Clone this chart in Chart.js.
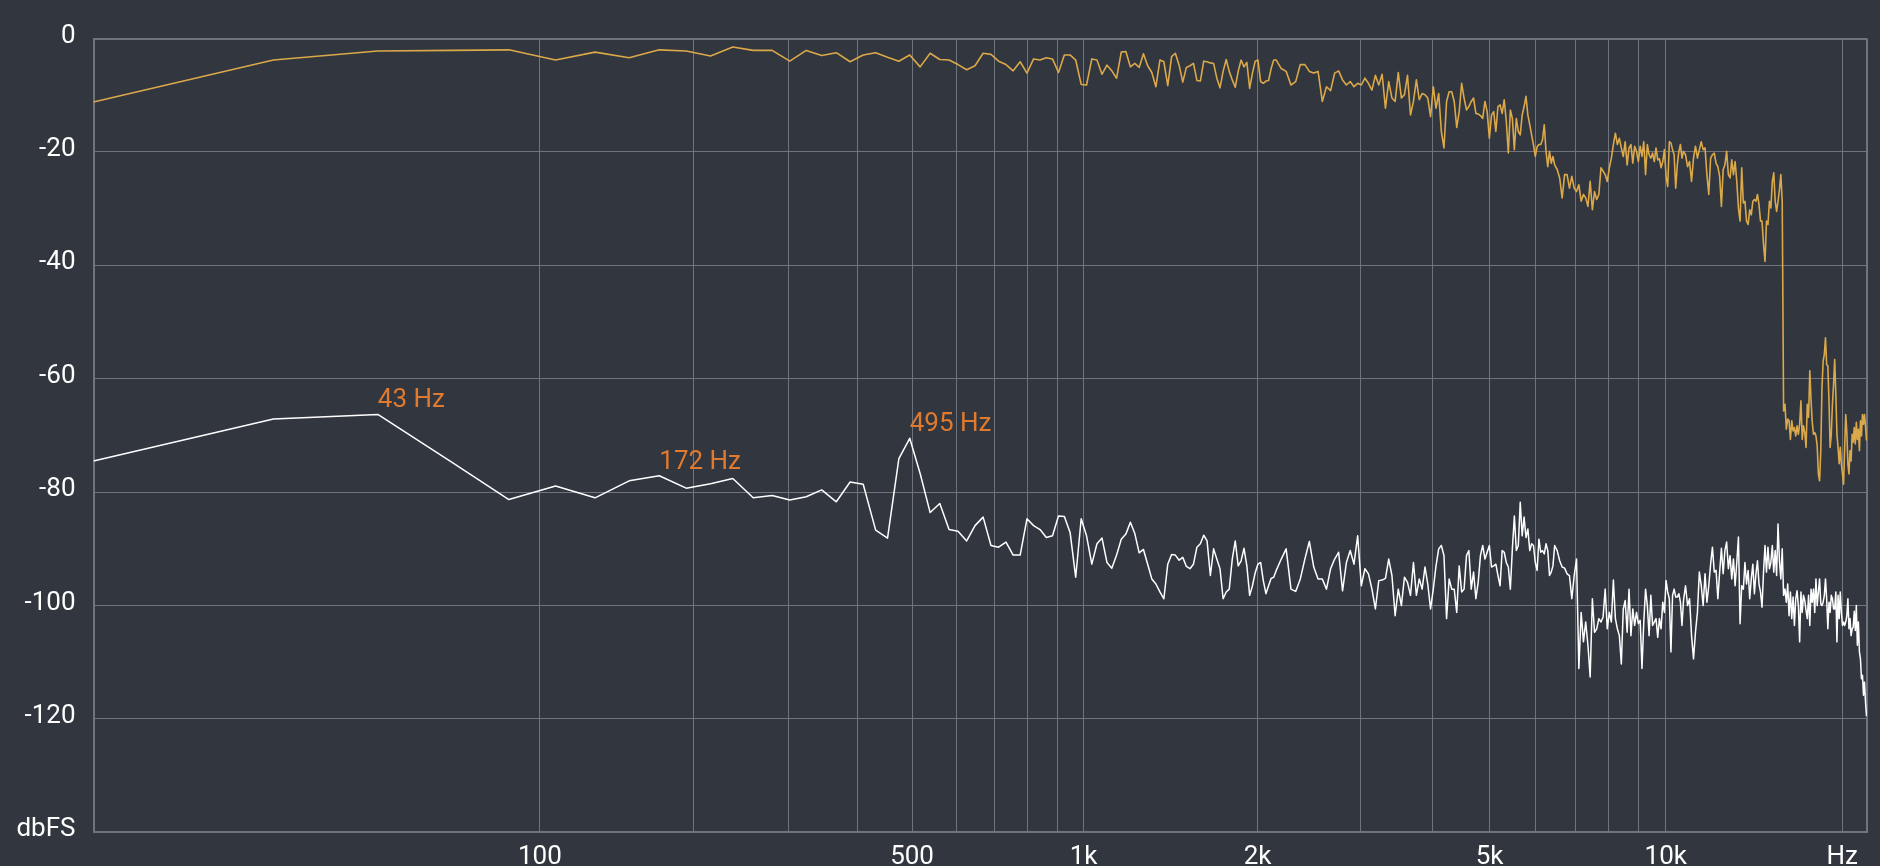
<!DOCTYPE html>
<html lang="en">
<head>
<meta charset="UTF-8">
<title>Spectrum</title>
<script src="https://cdn.jsdelivr.net/npm/chart.js@4"></script>
<style>
  html, body { margin: 0; padding: 0; background: #31363f; overflow: hidden; }
  .chart-box { position: relative; width: 1880px; height: 866px; }
</style>
</head>
<body>
<div class="chart-box"><canvas id="spectrum"></canvas></div>
<script>
// FFT bins of a 2048-point transform at 44.1 kHz
const binHz = 44100 / 2048;
// each block of values below is read at [first bin, bin step]
const segA = [0, 1], segB = [102, 2], segC = [303, 3], segD = [502, 4];

// music spectrum (gold), dBFS
const musicA = [
  -11.2, -3.8, -2.2, -2.1, -2.0, -3.8, -2.4, -3.4, -2.0, -2.2,
  -3.1, -1.5, -2.1, -2.1, -4.0, -2.1, -3.0, -2.5, -4.1, -2.9,
  -2.5, -3.3, -4.0, -2.9, -5.0, -2.6, -3.7, -3.8, -4.6, -5.5,
  -4.8, -2.6, -2.8, -4.0, -4.6, -5.7, -4.1, -6.1, -3.6, -3.8,
  -3.4, -3.6, -6.0, -2.9, -2.9, -3.8, -8.1, -8.2, -3.6, -3.8,
  -6.3, -4.7, -5.7, -7.0, -2.4, -2.3, -5.0, -4.4, -5.1, -2.7,
  -4.8, -6.0, -8.5, -3.8, -4.1, -8.3, -3.2, -2.6, -4.7, -7.7,
  -5.1, -4.8, -4.4, -7.4, -7.5, -4.0, -4.1, -4.3, -4.4, -7.0,
  -8.7, -5.8, -3.7, -5.8, -7.3, -8.6, -5.8, -3.8, -5.0, -4.2,
  -8.8, -6.1, -4.0, -3.8, -7.6, -7.9, -7.5, -7.4, -5.3, -3.8,
  -3.8
];
const musicB = [
  -5.3, -5.8, -8.2, -7.6, -4.6, -4.6, -5.8, -6.1, -5.8, -11.1,
  -8.5, -9.2, -6.1, -5.7, -7.3, -8.2, -7.6, -8.5, -7.9, -8.2,
  -7.0, -7.9, -9.1, -6.5, -8.2, -6.3, -12.3, -7.6, -10.5, -11.1,
  -6.0, -10.5, -9.9, -6.5, -13.5, -11.1, -7.3, -10.8, -9.7, -9.9,
  -10.5, -13.8, -8.5, -12.3, -9.7, -16.4, -19.3, -11.1, -9.4, -9.4,
  -11.1, -15.7, -12.9, -7.9, -10.5, -12.6, -12.0, -11.1, -10.5, -13.2,
  -13.3, -13.6, -14.1, -11.1, -12.9, -17.6, -13.5, -12.9, -16.4, -12.0,
  -11.7, -13.2, -10.8, -14.6, -20.2, -12.6, -14.1, -19.6, -14.1, -16.4,
  -17.0, -13.5, -12.0, -10.2, -13.5, -15.2, -17.0, -18.7, -20.8, -19.1,
  -18.7, -18.7, -17.9, -15.2, -19.9, -22.6, -19.9, -22.0, -20.8, -22.3
];
const musicC = [
  -23.1, -24.6, -28.1, -24.0, -24.0, -26.4, -24.3, -26.4, -27.0, -25.8,
  -28.7, -27.5, -28.1, -29.6, -25.2, -30.2, -27.0, -28.4, -27.5, -22.8,
  -23.4, -24.0, -25.2, -22.8, -21.1, -18.7, -16.7, -18.7, -17.6, -19.3,
  -20.8, -18.2, -22.3, -19.3, -18.7, -22.0, -19.0, -19.9, -21.7, -19.0,
  -20.8, -18.2, -24.0, -18.7, -20.5, -21.1, -20.2, -21.7, -19.3, -21.4,
  -21.2, -22.8, -21.7, -19.6, -24.3, -26.1, -18.2, -18.4, -19.6, -20.5,
  -26.4, -22.3, -19.9, -18.7, -21.1, -19.9
];
const musicD = [
  -20.5, -22.6, -21.7, -25.2, -21.1, -19.0, -21.1, -19.6, -18.2, -19.6,
  -19.3, -24.0, -27.5, -21.1, -20.5, -20.2, -22.0, -22.6, -24.3, -29.6,
  -23.1, -22.3, -19.9, -24.0, -24.6, -21.4, -24.0, -21.7, -25.2, -29.9,
  -32.2, -22.8, -29.0, -28.7, -32.2, -32.8, -30.2, -31.1, -28.7, -28.4,
  -28.7, -27.5, -29.3, -32.2, -32.2, -36.3, -39.3, -32.2, -32.8, -28.7,
  -29.9, -25.2, -23.7, -28.7, -30.5, -28.7, -26.7, -24.0, -28.7, -65.7,
  -64.5, -68.9, -67.1, -67.4, -70.7, -67.4, -69.2, -68.6, -70.1, -68.3,
  -69.8, -68.0, -63.9, -70.7, -68.3, -69.5, -72.1, -64.5, -66.8, -58.6,
  -63.9, -67.7, -69.8, -69.5, -70.1, -71.8, -76.8, -78.0, -72.7, -61.6,
  -56.9, -55.7, -52.8, -57.5, -57.7, -63.9, -72.1, -69.8, -64.5, -61.0,
  -56.6, -62.7, -69.8, -72.1, -75.0, -72.1, -75.0, -76.8, -78.6, -72.1,
  -66.3, -69.5, -75.0, -76.8, -72.7, -74.5, -69.8, -71.2, -68.6, -71.5,
  -67.7, -70.7, -68.9, -72.7, -67.4, -70.1, -66.3, -68.0, -66.3, -68.3, -70.9
];

// noise spectrum (white), dBFS
const noiseA = [
  -74.5, -67.1, -66.3, -74.7, -81.3, -78.9, -81.0, -78.0, -77.1, -79.3,
  -78.5, -77.6, -81.0, -80.6, -81.4, -80.8, -79.6, -81.7, -78.2, -78.6,
  -86.7, -88.1, -74.1, -70.5, -76.7, -83.6, -82.0, -86.6, -86.9, -88.6,
  -85.9, -84.4, -89.4, -89.7, -88.8, -91.1, -91.1, -84.7, -85.9, -86.6,
  -88.0, -87.7, -84.2, -84.3, -87.1, -95.0, -84.7, -87.7, -92.7, -89.1,
  -88.1, -92.4, -93.4, -91.1, -88.3, -87.4, -85.3, -87.3, -90.7, -90.1,
  -92.7, -95.3, -96.2, -97.6, -98.8, -92.7, -91.0, -91.1, -92.0, -91.5,
  -93.1, -93.5, -92.7, -89.7, -89.1, -87.6, -88.6, -94.7, -90.0, -91.8,
  -93.5, -98.8, -97.6, -97.1, -91.8, -88.6, -93.0, -92.1, -89.9, -93.0,
  -98.2, -96.5, -94.2, -92.7, -92.4, -95.6, -97.9, -96.5, -95.2, -95.0,
  -93.8
];
const noiseB = [
  -91.8, -90.0, -97.1, -97.5, -95.3, -91.8, -88.7, -93.2, -95.3, -95.3,
  -97.1, -93.5, -91.8, -90.6, -97.4, -92.4, -90.3, -92.7, -87.7, -96.5,
  -93.5, -94.4, -97.1, -100.6, -95.6, -95.5, -95.2, -91.8, -94.7, -101.8,
  -97.1, -100.0, -95.0, -95.9, -98.2, -92.4, -98.2, -95.3, -97.1, -93.2,
  -96.2, -100.6, -97.1, -93.0, -90.0, -89.4, -91.2, -102.3, -95.3, -97.1,
  -97.1, -101.2, -93.0, -97.6, -97.1, -91.2, -90.3, -97.1, -94.1, -98.8,
  -95.9, -91.2, -89.4, -91.8, -90.6, -89.4, -93.2, -93.0, -92.7, -94.7,
  -96.5, -90.3, -90.6, -92.4, -93.2, -97.1, -90.0, -84.2, -90.3, -89.4,
  -81.8, -87.7, -84.4, -88.0, -86.5, -90.3, -89.1, -89.4, -92.4, -93.8,
  -88.3, -90.6, -90.3, -90.9, -89.1, -90.3, -94.7, -94.1, -93.0, -89.4
];
const noiseC = [
  -90.3, -92.1, -93.2, -93.4, -94.4, -94.7, -98.8, -94.7, -91.8, -111.1,
  -101.2, -106.4, -102.9, -107.0, -112.6, -98.8, -104.7, -104.1, -102.3, -102.9,
  -102.0, -97.1, -104.1, -101.2, -102.9, -95.5, -102.3, -104.1, -105.3, -110.3,
  -100.6, -99.1, -104.7, -97.1, -105.3, -100.6, -103.5, -101.2, -103.2, -102.6,
  -111.1, -102.9, -97.1, -100.0, -105.3, -98.2, -103.5, -102.9, -102.3, -105.6,
  -102.3, -104.1, -99.4, -101.2, -95.6, -97.6, -98.8, -108.2, -98.2, -97.1,
  -98.5, -98.5, -97.9, -99.4, -103.5, -99.1
];
const noiseD = [
  -96.5, -100.0, -98.8, -105.3, -109.4, -104.7, -101.2, -94.1, -96.5, -100.0,
  -94.4, -99.4, -96.5, -92.7, -89.7, -94.1, -93.8, -98.8, -94.1, -89.9,
  -94.4, -90.3, -88.8, -93.5, -91.2, -95.3, -91.8, -96.5, -92.4, -87.9,
  -103.2, -96.5, -97.1, -92.4, -96.2, -93.8, -98.8, -95.3, -92.7, -97.9,
  -94.4, -92.1, -96.2, -97.6, -100.3, -94.1, -89.4, -94.1, -89.7, -93.5,
  -92.4, -89.4, -94.1, -90.3, -94.7, -85.6, -92.1, -95.3, -90.0, -98.2,
  -97.1, -99.4, -96.2, -101.8, -97.6, -102.3, -98.5, -103.5, -98.8, -97.4,
  -100.0, -106.4, -97.6, -101.2, -98.2, -99.1, -100.9, -102.3, -98.2, -103.5,
  -97.1, -99.4, -97.1, -101.2, -95.3, -100.0, -97.6, -95.3, -99.7, -100.0,
  -99.4, -98.2, -95.3, -98.8, -104.1, -99.4, -101.2, -98.2, -98.8, -100.6,
  -100.6, -97.6, -106.4, -98.2, -102.3, -97.6, -101.2, -103.5, -102.9, -103.5,
  -102.9, -101.8, -98.8, -104.1, -102.3, -105.3, -104.1, -103.8, -101.0, -104.4,
  -100.0, -107.0, -102.9, -108.2, -109.4, -112.9, -112.3, -115.8, -113.5, -117.0, -119.5
];

// x grid lines (Hz) and the ones that carry a label
const gridHz = [0, 100, 200, 300, 400, 500, 600, 700, 800, 900, 1000,
  2000, 3000, 4000, 5000, 6000, 7000, 8000, 9000, 10000, 20000, 22050];
const hzLabels = { 100: '100', 500: '500', 1000: '1k', 2000: '2k', 5000: '5k', 10000: '10k', 20000: 'Hz' };
const dbMin = -140, dbMax = 0, dbStep = 20;
const peakBins = [2, 8, 23];
const peakNames = ['43 Hz', '172 Hz', '495 Hz'];

function toPoints(blocks) {
  const pts = [];
  blocks.forEach(([seg, vals]) => {
    vals.forEach((v, i) => pts.push({ x: (seg[0] + i * seg[1]) * binHz, y: v }));
  });
  return pts;
}

// frequency axis of the analyser: log10(f + 21)
const HZ_SHIFT = 21;
class ShiftedLogScale extends Chart.Scale {
  determineDataLimits() {
    this.min = this.options.min;
    this.max = this.options.max;
  }
  buildTicks() {
    return gridHz.map(v => ({ value: v }));
  }
  getLabelForValue(v) { return String(v); }
  configure() {
    super.configure();
    this._lo = Math.log10(this.min + HZ_SHIFT);
    this._span = Math.log10(this.max + HZ_SHIFT) - this._lo;
  }
  getPixelForValue(v) {
    return this.getPixelForDecimal((Math.log10(v + HZ_SHIFT) - this._lo) / this._span);
  }
  getValueForPixel(p) {
    return Math.pow(10, this._lo + this.getDecimalForPixel(p) * this._span) - HZ_SHIFT;
  }
}
ShiftedLogScale.id = 'shiftedLog';
ShiftedLogScale.defaults = {};
Chart.register(ShiftedLogScale);

const peakLabels = {
  id: 'peakLabels',
  afterDatasetsDraw(chart) {
    const pts = chart.getDatasetMeta(1).data;
    const ctx = chart.ctx;
    ctx.save();
    ctx.font = '26px Roboto';
    ctx.fillStyle = '#e07a2e';
    ctx.textAlign = 'left';
    ctx.textBaseline = 'alphabetic';
    peakBins.forEach((bin, i) => {
      ctx.fillText(peakNames[i], pts[bin].x, pts[bin].y - 7);
    });
    ctx.restore();
  }
};

const gridColor = '#70757d';
const edgeWidth = (ctx, edges) => edges.includes(ctx.tick && ctx.tick.value) ? 2 : 1;

new Chart(document.getElementById('spectrum'), {
  type: 'line',
  data: {
    datasets: [
      {
        label: 'music',
        data: toPoints([[segA, musicA], [segB, musicB], [segC, musicC], [segD, musicD]]),
        borderColor: '#dba949',
        borderWidth: 1.6,
        borderJoinStyle: 'round',
        pointRadius: 0,
        tension: 0
      },
      {
        label: 'noise',
        data: toPoints([[segA, noiseA], [segB, noiseB], [segC, noiseC], [segD, noiseD]]),
        borderColor: '#ffffff',
        borderWidth: 1.5,
        borderJoinStyle: 'round',
        pointRadius: 0,
        tension: 0
      }
    ]
  },
  options: {
    responsive: true,
    maintainAspectRatio: false,
    animation: false,
    layout: { padding: { top: 38.5, right: 13, bottom: 0, left: 0 } },
    font: { family: 'Roboto', size: 26 },
    plugins: { legend: { display: false }, tooltip: { enabled: false } },
    scales: {
      x: {
        type: 'shiftedLog',
        min: 0,
        max: 22050,
        afterFit: s => { s.height = 32; },
        grid: { color: gridColor, drawTicks: false, lineWidth: c => edgeWidth(c, [22050]) },
        border: { color: gridColor, width: 2 },
        ticks: {
          autoSkip: false,
          maxRotation: 0,
          padding: 12,
          color: '#ffffff',
          font: { family: 'Roboto', size: 26, lineHeight: 1 },
          callback: v => hzLabels[v] || ''
        }
      },
      y: {
        min: dbMin,
        max: dbMax,
        afterFit: s => { s.width = 93.5; },
        grid: { color: gridColor, drawTicks: false, lineWidth: c => edgeWidth(c, [dbMax]) },
        border: { color: gridColor, width: 2 },
        ticks: {
          stepSize: dbStep,
          padding: 18,
          labelOffset: -2.5,
          color: '#ffffff',
          font: { family: 'Roboto', size: 26 },
          callback: v => v === dbMin ? 'dbFS' : String(v)
        }
      }
    }
  },
  plugins: [peakLabels]
});
</script>
</body>
</html>
